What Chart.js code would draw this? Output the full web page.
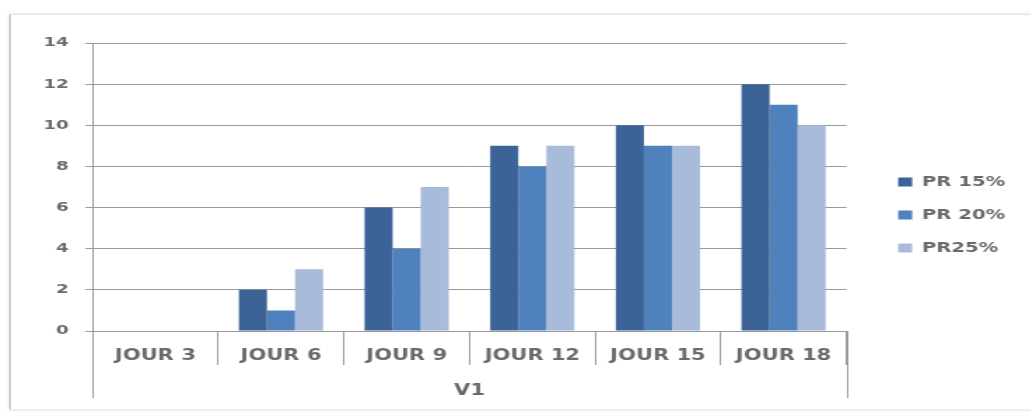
<!DOCTYPE html>
<html>
<head>
<meta charset="utf-8">
<script src="https://cdn.jsdelivr.net/npm/chart.js@4.4.0/dist/chart.umd.min.js"></script>
<style>
  html, body { margin: 0; padding: 0; background: #fff; width: 1031px; height: 412px; overflow: hidden; }
  #wrap { position: absolute; left: 0; top: 0; width: 736px; height: 412px; transform: scaleX(1.4); transform-origin: 0 0; }
  #frame { position: absolute; left: 9px; top: 14px; width: 1040px; height: 394px; border-left: 2px solid #cdcdcd; border-top: 1px solid #e4e4e4; border-bottom: 1px solid #ececec; box-shadow: 0 0 4px rgba(0,0,0,.12); pointer-events: none; }
</style>
</head>
<body>
<div id="wrap"><canvas id="chart" width="736" height="412"></canvas></div>
<div id="frame"></div>
<script>
// Jours de mesure
const days = ['JOUR 3', 'JOUR 6', 'JOUR 9', 'JOUR 12', 'JOUR 15', 'JOUR 18'];
const groupLabel = 'V1';

// Séries
const pr15 = [0, 2, 6, 9, 10, 12];
const pr20 = [0, 1, 4, 8, 9, 11];
const pr25 = [0, 3, 7, 9, 9, 10];

const yMin = 0, yMax = 14, yStep = 2;

const textColor = '#6a6a6a';
const gridColor = '#999999';
const font = 'DejaVu Sans';

// prolonge les traits extérieurs de l'axe des catégories jusqu'au groupe V1
const groupLines = {
  id: 'groupLines',
  afterDraw(chart) {
    const { ctx, chartArea } = chart;
    const x = chart.scales.x;
    ctx.save();
    ctx.strokeStyle = gridColor;
    ctx.lineWidth = 1;
    ctx.beginPath();
    [chartArea.left, chartArea.right].forEach(px => {
      ctx.moveTo(Math.round(px) + 0.5, chartArea.bottom);
      ctx.lineTo(Math.round(px) + 0.5, x.bottom - 14);
    });
    ctx.stroke();
    ctx.restore();
  }
};

// axe vide qui ne sert qu'à réserver de la place
const spacer = (pos, size) => ({
  position: pos,
  display: true,
  grid: { display: false },
  border: { display: false },
  ticks: { display: false },
  afterFit(scale) {
    if (scale.isHorizontal()) scale.height = size; else scale.width = size;
  }
});

new Chart(document.getElementById('chart'), {
  type: 'bar',
  data: {
    labels: days,
    datasets: [
      { label: 'PR 15%', data: pr15, backgroundColor: '#3c6397' },
      { label: 'PR 20%', data: pr20, backgroundColor: '#4f81bd' },
      { label: 'PR25%', data: pr25, backgroundColor: '#a8bbdb' }
    ]
  },
  options: {
    responsive: false,
    animation: false,
    events: [],
    categoryPercentage: 0.67,
    barPercentage: 1,
    layout: { padding: { top: 18, right: 8, bottom: 0, left: 19 } },
    plugins: {
      tooltip: { enabled: false },
      legend: {
        position: 'right',
        align: 'center',
        labels: {
          boxWidth: 10,
          boxHeight: 9,
          padding: 19,
          color: textColor,
          font: { family: font, size: 14, weight: 'bold' }
        }
      }
    },
    scales: {
      x: {
        grid: { drawOnChartArea: false, color: gridColor, tickLength: 34, offset: true },
        border: { color: gridColor },
        ticks: { color: textColor, padding: -18, font: { family: font, size: 15, weight: 'bold' } },
        title: {
          display: true,
          text: groupLabel,
          color: textColor,
          padding: { top: 6, bottom: 12 },
          font: { family: font, size: 15, weight: 'bold' }
        },
        afterFit(scale) { scale.height = 81; }
      },
      y: {
        min: yMin,
        max: yMax,
        grid: { color: gridColor, tickLength: 5 },
        border: { color: gridColor },
        ticks: { stepSize: yStep, color: textColor, padding: 12, font: { family: font, size: 13, weight: 'bold' } }
      },
      gapRight: spacer('right', 18),
      gapTop: spacer('top', 25)
    }
  },
  plugins: [groupLines]
});
</script>
</body>
</html>
